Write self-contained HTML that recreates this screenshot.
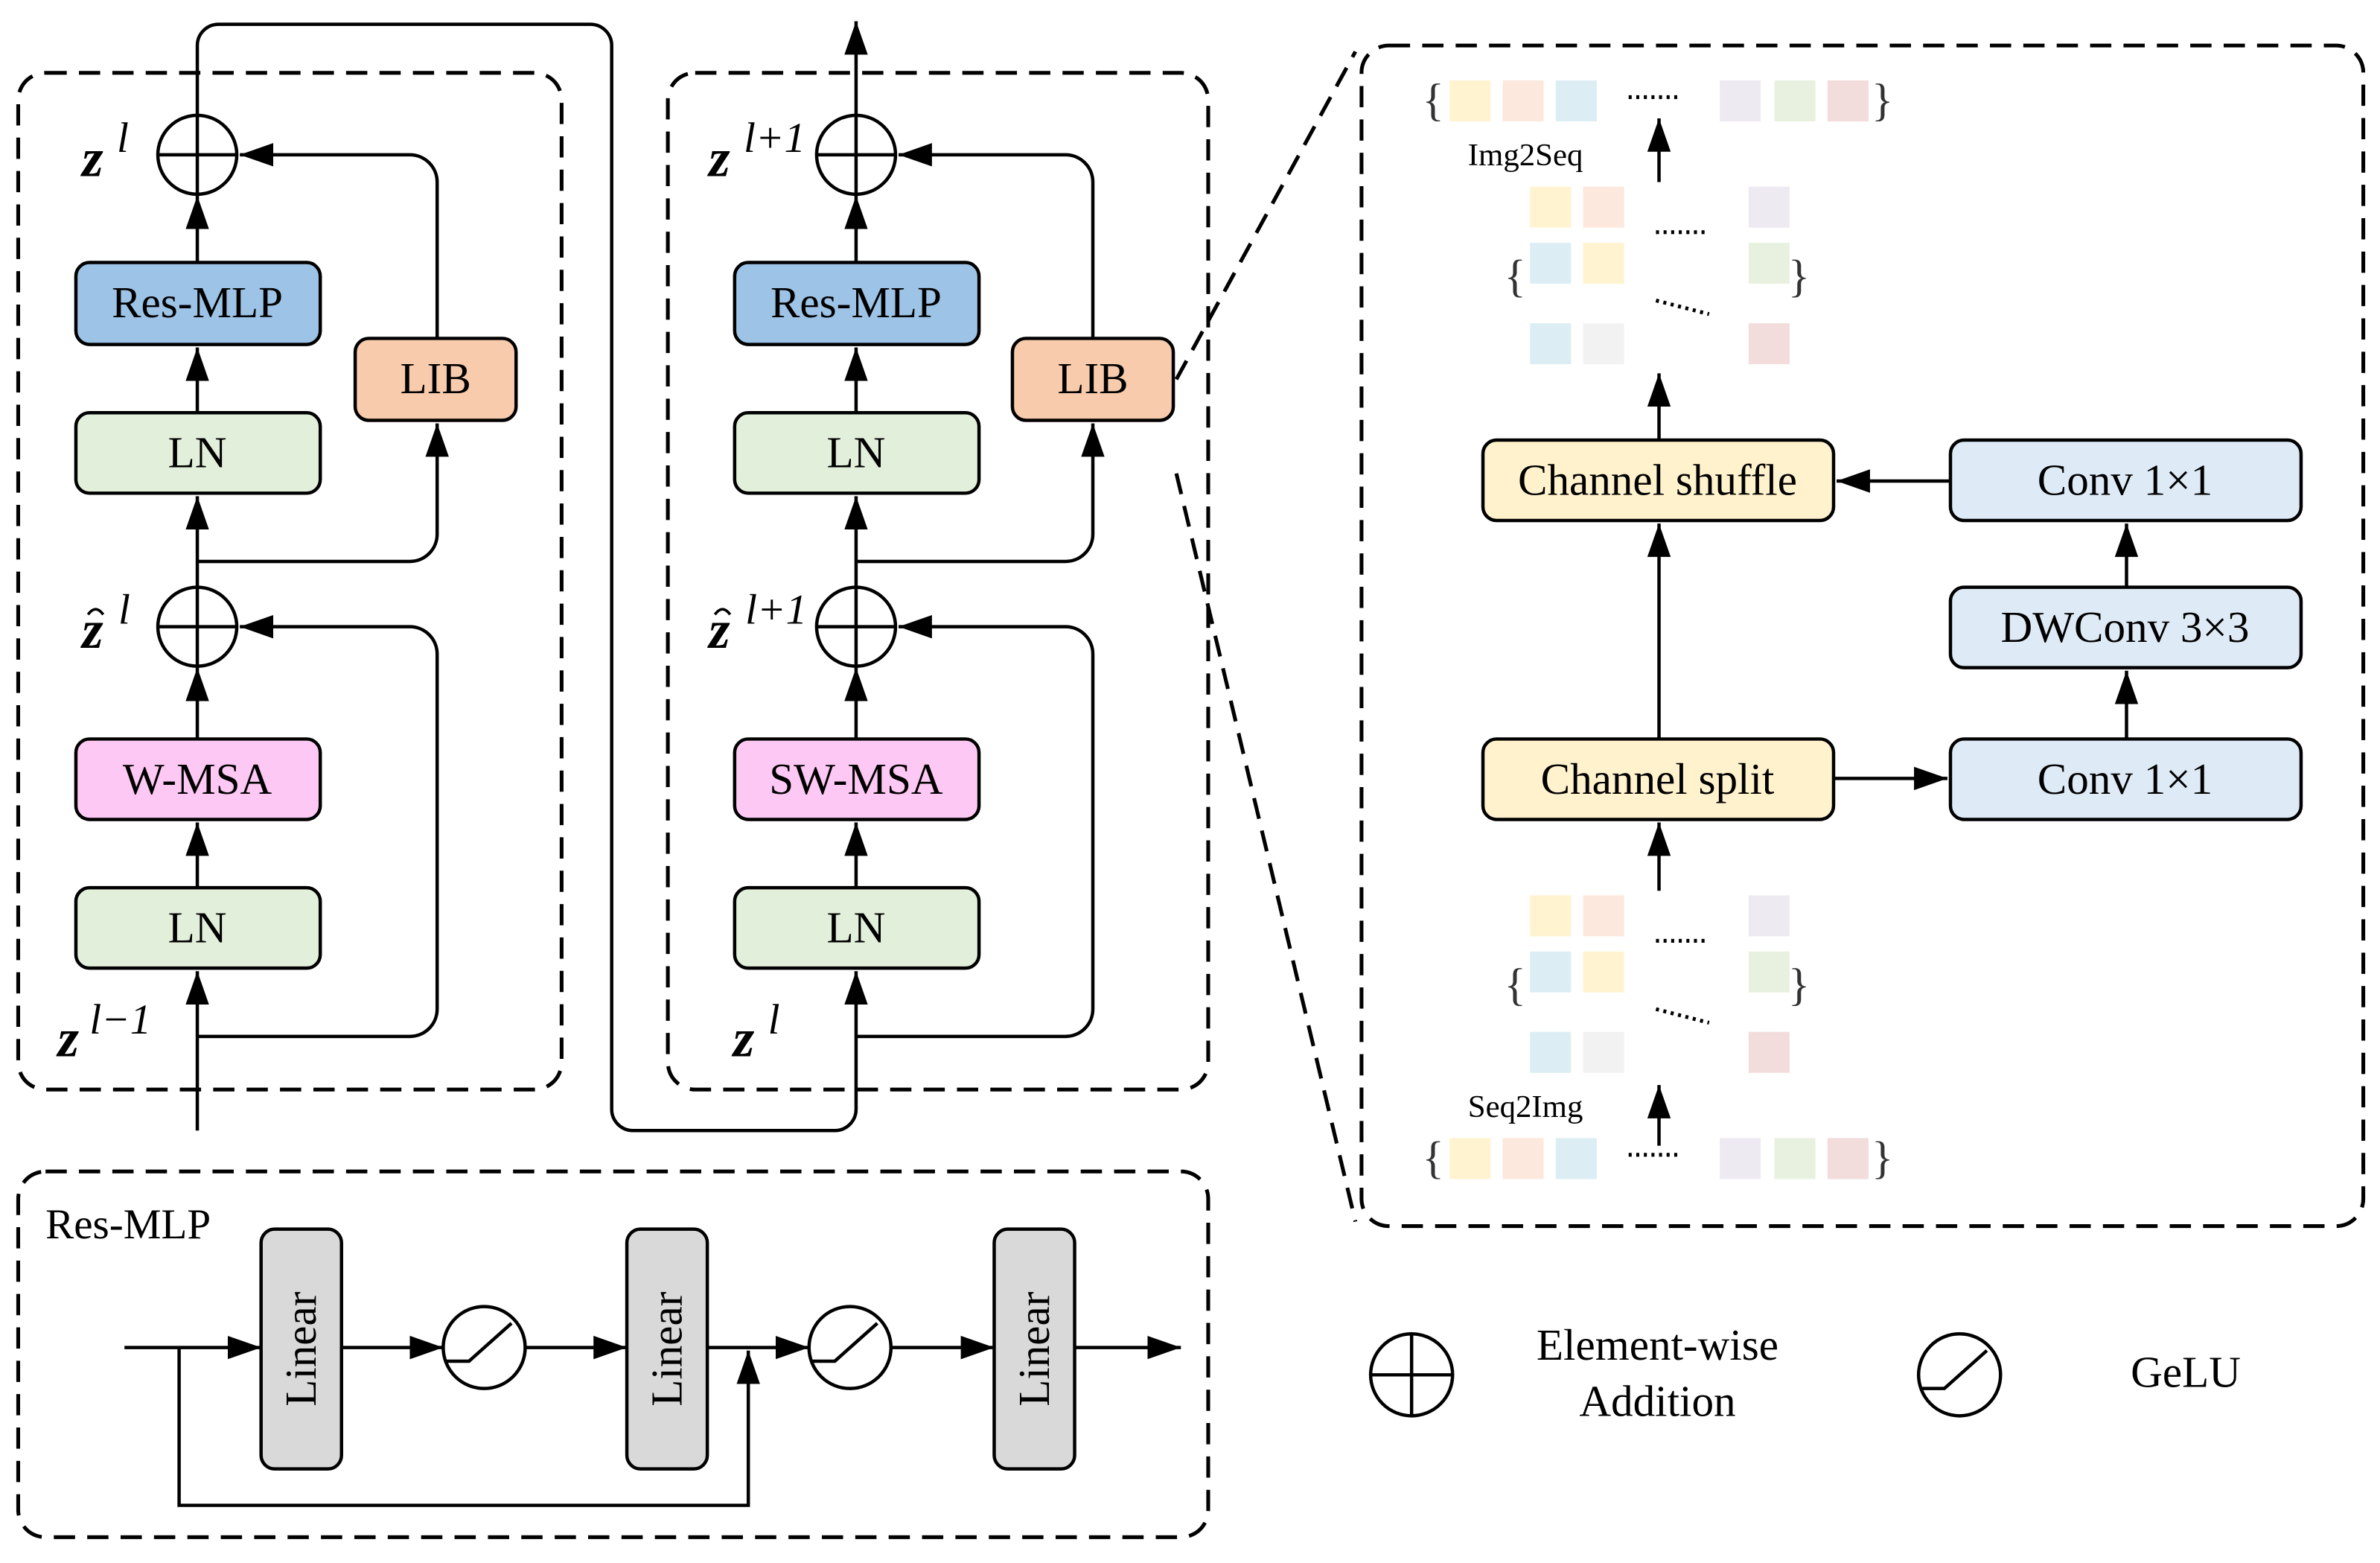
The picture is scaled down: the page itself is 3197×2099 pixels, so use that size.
<!DOCTYPE html>
<html><head><meta charset="utf-8"><style>html,body{margin:0;padding:0;background:#fff}svg{display:block}svg text{font-family:"Liberation Serif",serif}</style></head>
<body>
<svg width="3197" height="2099" viewBox="0 0 1568 1030" preserveAspectRatio="none" xmlns="http://www.w3.org/2000/svg" font-family="'Liberation Serif', serif">
<defs>
<marker id="b" viewBox="0 0 10 10" refX="10" refY="5" markerWidth="22" markerHeight="22" markerUnits="userSpaceOnUse" orient="auto"><path d="M0,1.5L10,5L0,8.5z" fill="#000"/></marker>
</defs>
<g fill="none" stroke="#000" stroke-width="2.5" stroke-dasharray="14,8">
<rect x="12" y="48" width="358" height="670" rx="18"/>
<rect x="440" y="48" width="356" height="670" rx="18"/>
<rect x="897" y="30" width="660" height="778" rx="18"/>
<rect x="12" y="772" width="784" height="241" rx="18"/>
<line x1="775" y1="250" x2="893" y2="34"/>
<line x1="775" y1="312" x2="893" y2="805"/>
</g>
<g stroke="#000" stroke-width="2.2" fill="none">
<path d="M130,745V640" marker-end="url(#b)"/>
<path d="M130,585V542" marker-end="url(#b)"/>
<path d="M130,487V440" marker-end="url(#b)"/>
<path d="M130,387V327" marker-end="url(#b)"/>
<path d="M130,272V229" marker-end="url(#b)"/>
<path d="M130,173V129" marker-end="url(#b)"/>
<path d="M130,683H270a18,18 0 0 0 18,-18V431a18,18 0 0 0 -18,-18H158" marker-end="url(#b)"/>
<path d="M130,370H270a18,18 0 0 0 18,-18V279" marker-end="url(#b)"/>
<path d="M288,223V120a18,18 0 0 0 -18,-18H158" marker-end="url(#b)"/>
<path d="M130,76V30a14,14 0 0 1 14,-14H389a14,14 0 0 1 14,14V731a14,14 0 0 0 14,14H550a14,14 0 0 0 14,-14V640" marker-end="url(#b)"/>
<path d="M564,585V542" marker-end="url(#b)"/>
<path d="M564,487V440" marker-end="url(#b)"/>
<path d="M564,387V327" marker-end="url(#b)"/>
<path d="M564,272V229" marker-end="url(#b)"/>
<path d="M564,173V129" marker-end="url(#b)"/>
<path d="M564,76V14" marker-end="url(#b)"/>
<path d="M564,683H702a18,18 0 0 0 18,-18V431a18,18 0 0 0 -18,-18H592" marker-end="url(#b)"/>
<path d="M564,370H702a18,18 0 0 0 18,-18V279" marker-end="url(#b)"/>
<path d="M720,223V120a18,18 0 0 0 -18,-18H592" marker-end="url(#b)"/>
<path d="M1285,317H1210" marker-end="url(#b)"/>
<path d="M1401,387V345" marker-end="url(#b)"/>
<path d="M1401,487V442" marker-end="url(#b)"/>
<path d="M1208,513H1283" marker-end="url(#b)"/>
<path d="M1093,487V345" marker-end="url(#b)"/>
<path d="M1093,587V542" marker-end="url(#b)"/>
<path d="M1093,290V246" marker-end="url(#b)"/>
<path d="M1093,755V715" marker-end="url(#b)"/>
<path d="M1093,120V78" marker-end="url(#b)"/>
<path d="M82,888H172" marker-end="url(#b)"/>
<path d="M225,888H292" marker-end="url(#b)"/>
<path d="M346,888H413" marker-end="url(#b)"/>
<path d="M466,888H533" marker-end="url(#b)"/>
<path d="M587,888H655" marker-end="url(#b)"/>
<path d="M708,888H778" marker-end="url(#b)"/>
<path d="M118,888V992H493V890" marker-end="url(#b)"/>
</g>
<g stroke="#000" stroke-width="2.2" fill="#fff">
<circle cx="130" cy="102" r="26"/><circle cx="130" cy="413" r="26"/>
<circle cx="564" cy="102" r="26"/><circle cx="564" cy="413" r="26"/>
<circle cx="930" cy="906" r="27"/>
<circle cx="319" cy="888" r="27"/><circle cx="560" cy="888" r="27"/><circle cx="1291" cy="906" r="27"/>
</g>
<g stroke="#000" stroke-width="2.2" fill="none">
<path d="M104,102H156M130,76V128M104,413H156M130,387V439M538,102H590M564,76V128M538,413H590M564,387V439M903,906H957M930,879V933"/>
<path d="M293,897H309L337,872M534,897H550L578,872M1265,915H1281L1309,890"/>
<path d="M58,405Q63,398 68,405M471,405Q476,398 481,405" stroke-width="1.8"/>
</g>
<g stroke="#000" stroke-width="2.2">
<rect x="50" y="173" width="161" height="54" rx="9" fill="#9dc3e6"/>
<rect x="50" y="272" width="161" height="53" rx="9" fill="#e2efda"/>
<rect x="234" y="223" width="106" height="54" rx="9" fill="#f8cbad"/>
<rect x="50" y="487" width="161" height="53" rx="9" fill="#fdc9f4"/>
<rect x="50" y="585" width="161" height="53" rx="9" fill="#e2efda"/>
<rect x="484" y="173" width="161" height="54" rx="9" fill="#9dc3e6"/>
<rect x="484" y="272" width="161" height="53" rx="9" fill="#e2efda"/>
<rect x="667" y="223" width="106" height="54" rx="9" fill="#f8cbad"/>
<rect x="484" y="487" width="161" height="53" rx="9" fill="#fdc9f4"/>
<rect x="484" y="585" width="161" height="53" rx="9" fill="#e2efda"/>
<rect x="977" y="290" width="231" height="53" rx="9" fill="#fff2cc"/>
<rect x="977" y="487" width="231" height="53" rx="9" fill="#fff2cc"/>
<rect x="1285" y="290" width="231" height="53" rx="9" fill="#deebf7"/>
<rect x="1285" y="387" width="231" height="53" rx="9" fill="#deebf7"/>
<rect x="1285" y="487" width="231" height="53" rx="9" fill="#deebf7"/>
<rect x="172" y="810" width="53" height="158" rx="9" fill="#d9d9d9"/>
<rect x="413" y="810" width="53" height="158" rx="9" fill="#d9d9d9"/>
<rect x="655" y="810" width="53" height="158" rx="9" fill="#d9d9d9"/>
</g>
<g font-size="29" text-anchor="middle" fill="#000">
<text x="130" y="209">Res-MLP</text><text x="130" y="308">LN</text><text x="287" y="259">LIB</text>
<text x="130" y="523">W-MSA</text><text x="130" y="621">LN</text>
<text x="564" y="209">Res-MLP</text><text x="564" y="308">LN</text><text x="720" y="259">LIB</text>
<text x="564" y="523">SW-MSA</text><text x="564" y="621">LN</text>
<text x="1092" y="326">Channel shuffle</text><text x="1092" y="523">Channel split</text>
<text x="1400" y="326">Conv 1×1</text><text x="1400" y="423">DWConv 3×3</text><text x="1400" y="523">Conv 1×1</text>
<text transform="translate(208,889) rotate(-90)">Linear</text>
<text transform="translate(449,889) rotate(-90)">Linear</text>
<text transform="translate(691,889) rotate(-90)">Linear</text>
<text x="1092" y="896">Element-wise</text><text x="1092" y="933">Addition</text>
<text x="1440" y="914">GeLU</text>
</g>
<text x="30" y="816" font-size="28">Res-MLP</text>
<g font-size="36" font-weight="bold" font-style="italic">
<text x="54" y="116">z</text><text x="54" y="427">z</text><text x="38" y="696">z</text>
<text x="467" y="116">z</text><text x="467" y="427">z</text><text x="483" y="696">z</text>
</g>
<g font-size="28" font-style="italic">
<text x="77" y="100">l</text><text x="78" y="411">l</text><text x="59" y="681">l−1</text>
<text x="490" y="100">l+1</text><text x="491" y="411">l+1</text><text x="506" y="681">l</text>
</g>
<g font-size="21" text-anchor="middle"><text x="1005" y="109">Img2Seq</text><text x="1005" y="736">Seq2Img</text></g>
<g>
<g>
<rect x="955" y="53" width="27" height="27" fill="#fff3d0"/><rect x="990" y="53" width="27" height="27" fill="#fce8dc"/><rect x="1025" y="53" width="27" height="27" fill="#dceef4"/>
<rect x="1133" y="53" width="27" height="27" fill="#eeeaf2"/><rect x="1169" y="53" width="27" height="27" fill="#e8f1df"/><rect x="1204" y="53" width="27" height="27" fill="#f2dcdc"/>
</g>
<g transform="translate(0,697)">
<rect x="955" y="53" width="27" height="27" fill="#fff3d0"/><rect x="990" y="53" width="27" height="27" fill="#fce8dc"/><rect x="1025" y="53" width="27" height="27" fill="#dceef4"/>
<rect x="1133" y="53" width="27" height="27" fill="#eeeaf2"/><rect x="1169" y="53" width="27" height="27" fill="#e8f1df"/><rect x="1204" y="53" width="27" height="27" fill="#f2dcdc"/>
</g>
<g>
<rect x="1008" y="123" width="27" height="27" fill="#fff3d0"/><rect x="1043" y="123" width="27" height="27" fill="#fce8dc"/><rect x="1152" y="123" width="27" height="27" fill="#eeeaf2"/>
<rect x="1008" y="160" width="27" height="27" fill="#dceef4"/><rect x="1043" y="160" width="27" height="27" fill="#fff3d0"/><rect x="1152" y="160" width="27" height="27" fill="#e8f1df"/>
<rect x="1008" y="213" width="27" height="27" fill="#dceef4"/><rect x="1043" y="213" width="27" height="27" fill="#f2f2f2"/><rect x="1152" y="213" width="27" height="27" fill="#f2dcdc"/>
</g>
<g transform="translate(0,467)">
<rect x="1008" y="123" width="27" height="27" fill="#fff3d0"/><rect x="1043" y="123" width="27" height="27" fill="#fce8dc"/><rect x="1152" y="123" width="27" height="27" fill="#eeeaf2"/>
<rect x="1008" y="160" width="27" height="27" fill="#dceef4"/><rect x="1043" y="160" width="27" height="27" fill="#fff3d0"/><rect x="1152" y="160" width="27" height="27" fill="#e8f1df"/>
<rect x="1008" y="213" width="27" height="27" fill="#dceef4"/><rect x="1043" y="213" width="27" height="27" fill="#f2f2f2"/><rect x="1152" y="213" width="27" height="27" fill="#f2dcdc"/>
</g>
</g>
<g font-size="30" fill="#333">
<text x="937" y="76">{</text><text x="1233" y="76">}</text>
<text x="937" y="773">{</text><text x="1233" y="773">}</text>
<text x="991" y="192">{</text><text x="1178" y="192">}</text>
<text x="991" y="659">{</text><text x="1178" y="659">}</text>
</g>
<g stroke="#000" stroke-width="2.5" stroke-dasharray="2,3" fill="none">
<path d="M1073,64H1108M1073,761H1108M1091,153H1126M1091,620H1126M1091,198L1126,207M1091,665L1126,674"/>
</g>
</svg>
</body></html>
